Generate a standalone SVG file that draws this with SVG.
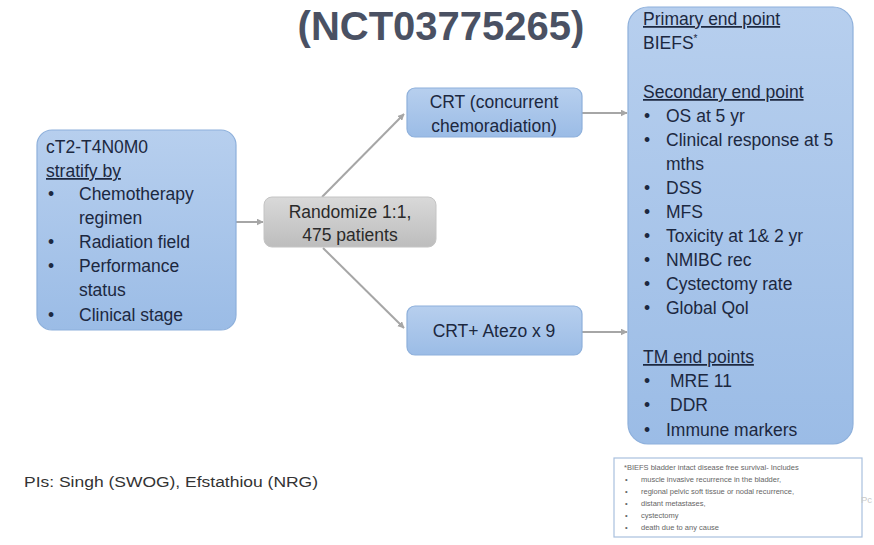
<svg xmlns="http://www.w3.org/2000/svg" width="874" height="545" viewBox="0 0 874 545">
<defs>
<linearGradient id="gBlue" x1="0" y1="0" x2="0" y2="1">
<stop offset="0" stop-color="#b7cfee"/>
<stop offset="1" stop-color="#9bbce6"/>
</linearGradient>
<linearGradient id="gGrey" x1="0" y1="0" x2="0" y2="1">
<stop offset="0" stop-color="#d9d9d9"/>
<stop offset="1" stop-color="#bdbdbd"/>
</linearGradient>
<marker id="arr" viewBox="0 0 10 10" refX="9" refY="5" markerWidth="7" markerHeight="7" orient="auto" markerUnits="userSpaceOnUse">
<path d="M0,0 L10,5 L0,10 z" fill="#a6a6a6"/>
</marker>
<style>
.box{fill:url(#gBlue);stroke:#8eb0db;stroke-width:1.2}
.grey{fill:url(#gGrey);stroke:#c4c4c4;stroke-width:1}
.t{font-family:"Liberation Sans",Arial,sans-serif;font-size:17.5px;fill:#1c2840}
.c{text-anchor:middle}
.u{text-decoration:underline}
.con{stroke:#a6a6a6;stroke-width:2;fill:none;marker-end:url(#arr)}
.fn{font-family:"Liberation Sans",Arial,sans-serif;font-size:7.5px;fill:#666666}
</style>
</defs>
<rect width="874" height="545" fill="#ffffff"/>
<text x="441" y="40" text-anchor="middle" font-family="'Liberation Sans',Arial,sans-serif" font-weight="bold" font-size="40" fill="#4a5163">(NCT03775265)</text>

<g id="connectors">
<line class="con" x1="236" y1="222" x2="263" y2="222"/>
<line class="con" x1="322" y1="197" x2="404" y2="114"/>
<line class="con" x1="323" y1="248" x2="404" y2="328"/>
<line class="con" x1="582" y1="113" x2="627" y2="113"/>
<line class="con" x1="582" y1="332" x2="627" y2="332"/>
</g>

<g id="left">
<rect class="box" x="37" y="130" width="199" height="200" rx="15"/>
<text class="t" x="46" y="153">cT2-T4N0M0</text>
<text class="t u" x="46" y="177">stratify by</text>
<text class="t" x="48" y="200">•</text><text class="t" x="79" y="200">Chemotherapy</text>
<text class="t" x="79" y="224">regimen</text>
<text class="t" x="48" y="248">•</text><text class="t" x="79" y="248">Radiation field</text>
<text class="t" x="48" y="272">•</text><text class="t" x="79" y="272">Performance</text>
<text class="t" x="79" y="296">status</text>
<text class="t" x="48" y="321">•</text><text class="t" x="79" y="321">Clinical stage</text>
</g>

<g id="randomize">
<rect class="grey" x="264" y="197" width="172" height="50" rx="8"/>
<text class="t c" x="350" y="218" style="fill:#2a2a2a">Randomize 1:1,</text>
<text class="t c" x="350" y="241" style="fill:#2a2a2a">475 patients</text>
</g>

<g id="crt">
<rect class="box" x="407" y="88" width="175" height="49" rx="8"/>
<text class="t c" x="494" y="108">CRT (concurrent</text>
<text class="t c" x="494" y="132">chemoradiation)</text>
</g>

<g id="crt-atezo">
<rect class="box" x="407" y="306" width="175" height="49" rx="8"/>
<text class="t c" x="494" y="337">CRT+ Atezo x 9</text>
</g>

<g id="endpoints">
<rect class="box" x="628" y="7" width="225" height="437" rx="20"/>
<text class="t u" x="643" y="25">Primary end point</text>
<text class="t" x="643" y="49">BIEFS<tspan font-size="10" dy="-7">*</tspan></text>
<text class="t u" x="643" y="98">Secondary end point</text>
<text class="t" x="644" y="122">•</text><text class="t" x="666" y="122">OS at 5 yr</text>
<text class="t" x="644" y="146">•</text><text class="t" x="666" y="146">Clinical response at 5</text>
<text class="t" x="666" y="170">mths</text>
<text class="t" x="644" y="194">•</text><text class="t" x="666" y="194">DSS</text>
<text class="t" x="644" y="218">•</text><text class="t" x="666" y="218">MFS</text>
<text class="t" x="644" y="242">•</text><text class="t" x="666" y="242">Toxicity at 1&amp; 2 yr</text>
<text class="t" x="644" y="266">•</text><text class="t" x="666" y="266">NMIBC rec</text>
<text class="t" x="644" y="290">•</text><text class="t" x="666" y="290">Cystectomy rate</text>
<text class="t" x="644" y="314">•</text><text class="t" x="666" y="314">Global Qol</text>
<text class="t u" x="643" y="363">TM end points</text>
<text class="t" x="644" y="387">•</text><text class="t" x="670" y="387">MRE 11</text>
<text class="t" x="644" y="411">•</text><text class="t" x="670" y="411">DDR</text>
<text class="t" x="644" y="436">•</text><text class="t" x="666" y="436">Immune markers</text>
</g>

<g id="footnote">
<rect x="614" y="458" width="248" height="79" fill="#ffffff" stroke="#a9c0de" stroke-width="1.2"/>
<text class="fn" x="624" y="470">*BIEFS bladder intact disease free survival- Includes</text>
<text class="fn" x="625" y="482">•</text><text class="fn" x="641" y="482">muscle invasive recurrence in the bladder,</text>
<text class="fn" x="625" y="494">•</text><text class="fn" x="641" y="494">regional pelvic soft tissue or nodal recurrence,</text>
<text class="fn" x="625" y="506">•</text><text class="fn" x="641" y="506">distant metastases,</text>
<text class="fn" x="625" y="518">•</text><text class="fn" x="641" y="518">cystectomy</text>
<text class="fn" x="625" y="530">•</text><text class="fn" x="641" y="530">death due to any cause</text>
</g>

<text x="24" y="487" font-family="'Liberation Sans',Arial,sans-serif" font-size="15.5" fill="#333333" textLength="294" lengthAdjust="spacingAndGlyphs">PIs: Singh (SWOG), Efstathiou (NRG)</text>
<text x="861" y="503" font-family="'Liberation Sans',Arial,sans-serif" font-size="9.5" fill="#c8c8c8">Pc</text>
</svg>
